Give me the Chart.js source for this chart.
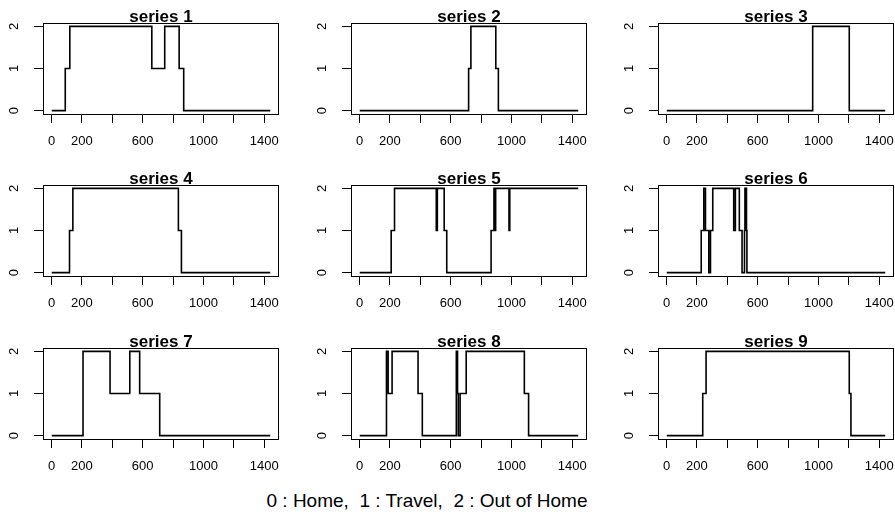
<!DOCTYPE html>
<html>
<head>
<meta charset="utf-8">
<script src="https://cdn.jsdelivr.net/npm/chart.js@4.4.1/dist/chart.umd.min.js"></script>
<style>
    html, body { margin: 0; padding: 0; background: #fff; }
    body {
        position: relative;
        width: 895px;
        height: 519px;
        overflow: hidden;
        font-family: "Liberation Sans", Arial, Helvetica, sans-serif;
    }
    canvas.panel { position: absolute; }
    #note {
        position: absolute;
        left: 0;
        width: 854px;
        top: 490px;
        text-align: center;
        white-space: pre;
        font-size: 19px;
        line-height: 22px;
        color: #000;
    }
</style>
</head>
<body>
<div id="note"></div>
<script>
'use strict';

// axis ticks (R drops the labels that would overlap)
const xTicks = [0, 200, 400, 600, 800, 1000, 1200, 1400];
const xTickLabels = ['0', '200', '', '600', '', '1000', '', '1400'];
const yTicks = [0, 1, 2];
const stateLabels = ['Home', 'Travel', 'Out of Home'];
const seriesNames = ['series 1', 'series 2', 'series 3', 'series 4', 'series 5',
    'series 6', 'series 7', 'series 8', 'series 9'];

// minute of day where each state starts, and the state itself
const series1Time = [1, 90, 120, 660, 745, 840, 870, 1440];
const series1State = [0, 1, 2, 1, 2, 1, 0, 0];
const series2Time = [1, 718, 733, 897, 914, 1440];
const series2State = [0, 1, 2, 1, 0, 0];
const series3Time = [1, 962, 1203, 1440];
const series3State = [0, 2, 0, 0];
const series4Time = [1, 118, 140, 835, 855, 1440];
const series4State = [0, 1, 2, 1, 0, 0];
const series5Time = [1, 208, 230, 505, 512, 557, 574, 866, 885, 892, 896, 984, 989, 1440];
const series5State = [0, 1, 2, 1, 2, 1, 0, 1, 2, 1, 2, 1, 2, 2];
const series6Time = [1, 228, 245, 256, 278, 289, 304, 442, 453, 479, 497, 513, 516, 526, 529, 1440];
const series6State = [0, 1, 2, 1, 0, 1, 2, 1, 2, 1, 0, 1, 2, 1, 0, 0];
const series7Time = [1, 207, 385, 515, 580, 712, 1440];
const series7State = [0, 2, 1, 2, 1, 0, 0];
const series8Time = [1, 177, 188, 214, 385, 413, 637, 645, 650, 662, 702, 1085, 1113, 1440];
const series8State = [0, 2, 1, 2, 1, 0, 2, 1, 0, 1, 2, 1, 0, 0];
const series9Time = [1, 238, 260, 1203, 1214, 1440];
const series9State = [0, 1, 2, 1, 0, 0];

const seriesTimes = [series1Time, series2Time, series3Time, series4Time, series5Time,
    series6Time, series7Time, series8Time, series9Time];
const seriesStates = [series1State, series2State, series3State, series4State, series5State,
    series6State, series7State, series8State, series9State];

// panel geometry (plot box of each panel)
const BOX_LEFT = [43, 351, 658];
const BOX_TOP = [23, 185, 348];
const BOX_W = 236;
const BOX_H = 91;
const AXIS_W = 43;
const AXIS_H = 45;
const PAD_RIGHT = 4;
const FONT = '"Liberation Sans", Arial, Helvetica, sans-serif';

/**
 * Draw the R style box around the plot region and the panel title
 */
const boxPlugin = {
    id: 'rBox',
    afterDraw: function (chart, args, opts) {
        const a = chart.chartArea;
        const ctx = chart.ctx;
        ctx.save();
        ctx.strokeStyle = '#000';
        ctx.lineWidth = 1;
        ctx.strokeRect(Math.round(a.left) + 0.5, Math.round(a.top) + 0.5,
            Math.round(a.right - a.left) - 1, Math.round(a.bottom - a.top));
        ctx.fillStyle = '#000';
        ctx.font = 'bold 17px ' + FONT;
        ctx.textAlign = 'center';
        ctx.textBaseline = 'alphabetic';
        ctx.fillText(opts.text, (a.left + a.right) / 2, a.top - 1.5);
        ctx.restore();
    }
};

// keep the plot box fixed: no extra room for overhanging tick labels
function fixScale(size) {
    return function (scale) {
        if (scale.isHorizontal()) {
            scale.height = size;
        } else {
            scale.width = size;
        }
        scale.paddingLeft = 0;
        scale.paddingRight = 0;
        scale.paddingTop = 0;
        scale.paddingBottom = 0;
    };
}

function makePanel(index) {
    const col = index % 3;
    const row = Math.floor(index / 3);
    const canvas = document.createElement('canvas');
    canvas.className = 'panel';
    canvas.width = AXIS_W + BOX_W + PAD_RIGHT;
    canvas.height = BOX_TOP[0] + BOX_H + AXIS_H;
    canvas.style.left = (BOX_LEFT[col] - AXIS_W) + 'px';
    canvas.style.top = (BOX_TOP[row] - BOX_TOP[0]) + 'px';
    document.body.appendChild(canvas);

    const times = seriesTimes[index];
    const states = seriesStates[index];

    return new Chart(canvas.getContext('2d'), {
        type: 'line',
        data: {
            datasets: [{
                label: seriesNames[index],
                data: times.map((t, i) => ({ x: t, y: states[i] })),
                borderColor: '#000',
                borderWidth: 1.6,
                pointRadius: 0,
                stepped: true,
                fill: false
            }]
        },
        options: {
            responsive: false,
            animation: false,
            devicePixelRatio: 1,
            events: [],
            layout: { padding: { left: 0, top: BOX_TOP[0], right: PAD_RIGHT, bottom: 0 } },
            plugins: {
                legend: { display: false },
                tooltip: { enabled: false },
                rBox: { text: seriesNames[index] }
            },
            scales: {
                x: {
                    type: 'linear',
                    min: -56.6,
                    max: 1497.6,
                    afterBuildTicks: function (scale) {
                        scale.ticks = xTicks.map(v => ({ value: v }));
                    },
                    afterFit: fixScale(AXIS_H),
                    border: { display: false },
                    grid: {
                        drawOnChartArea: false,
                        drawTicks: true,
                        tickLength: 9,
                        color: '#000',
                        lineWidth: 1
                    },
                    ticks: {
                        autoSkip: false,
                        maxRotation: 0,
                        padding: 11,
                        color: '#000',
                        font: { family: FONT, size: 13 },
                        callback: function (value, i) {
                            return xTickLabels[i];
                        }
                    }
                },
                y: {
                    type: 'linear',
                    min: -0.08,
                    max: 2.08,
                    afterBuildTicks: function (scale) {
                        scale.ticks = yTicks.map(v => ({ value: v }));
                    },
                    afterFit: fixScale(AXIS_W),
                    border: { display: false },
                    grid: {
                        drawOnChartArea: false,
                        drawTicks: true,
                        tickLength: 9,
                        color: '#000',
                        lineWidth: 1
                    },
                    ticks: {
                        minRotation: 90,
                        maxRotation: 90,
                        crossAlign: 'center',
                        padding: 16,
                        color: '#000',
                        font: { family: FONT, size: 13 },
                        callback: function (value) {
                            return String(value);
                        }
                    }
                }
            }
        },
        plugins: [boxPlugin]
    });
}

for (let i = 0; i < seriesNames.length; i++) {
    makePanel(i);
}

document.getElementById('note').textContent =
    stateLabels.map((s, i) => i + ' : ' + s).join(',  ');
</script>
</body>
</html>
